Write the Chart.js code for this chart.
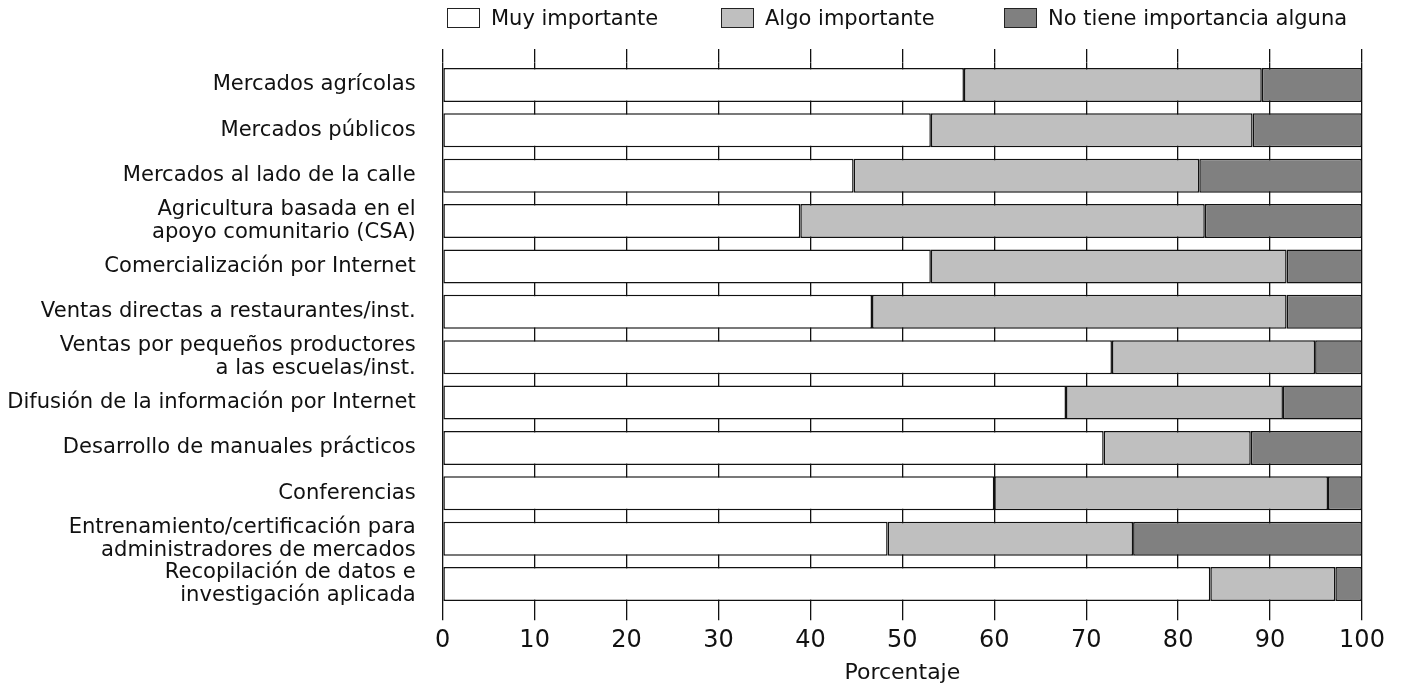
<!DOCTYPE html>
<html>
<head>
<meta charset="utf-8">
<script src="https://cdn.jsdelivr.net/npm/chart.js@4.4.1/dist/chart.umd.min.js"></script>
<style>
  html, body { margin: 0; padding: 0; background: #fff; }
  #wrap { position: relative; width: 1402px; height: 689px; overflow: hidden; }
  #chart { position: absolute; left: 0; top: 0; }
  #legend { position: absolute; left: 0; top: 0; width: 1402px; height: 40px;
            font-family: "DejaVu Sans", sans-serif; font-size: 21px; color: #111; }
  .item { position: absolute; top: 7px; height: 21px; display: flex; align-items: center; white-space: nowrap; }
  .box { width: 31px; height: 18px; border: 1.5px solid #222; margin-right: 11px; flex: none; }
</style>
</head>
<body>
<div id="wrap">
  <canvas id="chart" width="1402" height="689"></canvas>
  <div id="legend"></div>
</div>
<script>
// ---- data ----
const categories = [
  "Mercados agrícolas",
  "Mercados públicos",
  "Mercados al lado de la calle",
  ["Agricultura basada en el", "apoyo comunitario (CSA)"],
  "Comercialización por Internet",
  "Ventas directas a restaurantes/inst.",
  ["Ventas por pequeños productores", "a las escuelas/inst."],
  "Difusión de la información por Internet",
  "Desarrollo de manuales prácticos",
  "Conferencias",
  ["Entrenamiento/certificación para", "administradores de mercados"],
  ["Recopilación de datos e", "investigación aplicada"]
];
const muyImportante      = [56.7, 53.1, 44.7, 38.9, 53.1, 46.7, 72.8, 67.8, 71.9, 60.0, 48.4, 83.5];
const algoImportante     = [32.4, 35.0, 37.6, 44.0, 38.7, 45.1, 22.1, 23.6, 16.0, 36.3, 26.7, 13.6];
const noTieneImportancia = [10.9, 11.9, 17.7, 17.1,  8.2,  8.2,  5.1,  8.6, 12.1,  3.7, 24.9,  2.9];
const seriesNames  = ["Muy importante", "Algo importante", "No tiene importancia alguna"];
const seriesColors = ["#ffffff", "#bfbfbf", "#808080"];
const xTicks = [0, 10, 20, 30, 40, 50, 60, 70, 80, 90, 100];
const xTitle = "Porcentaje";

// ---- legend (HTML, real text) ----
const legendLefts = [447, 721, 1004];
const legendEl = document.getElementById("legend");
seriesNames.forEach((name, i) => {
  const item = document.createElement("div");
  item.className = "item";
  item.style.left = legendLefts[i] + "px";
  const box = document.createElement("span");
  box.className = "box";
  box.style.background = seriesColors[i];
  const txt = document.createElement("span");
  txt.textContent = name;
  item.appendChild(box);
  item.appendChild(txt);
  legendEl.appendChild(item);
});

// ---- chart ----
const FONT = "DejaVu Sans";
const INK = "#111";
const seriesValues = [muyImportante, algoImportante, noTieneImportancia];

new Chart(document.getElementById("chart"), {
  type: "bar",
  data: {
    labels: categories,
    datasets: seriesNames.map((name, i) => ({
      label: name,
      data: seriesValues[i],
      backgroundColor: seriesColors[i],
      borderColor: INK,
      borderWidth: 1.5,
      borderSkipped: false,
      categoryPercentage: 1,
      barPercentage: 0.75
    }))
  },
  options: {
    indexAxis: "y",
    responsive: false,
    animation: false,
    layout: { padding: { top: 49, left: 0, right: 40, bottom: 3 } },
    plugins: { legend: { display: false }, tooltip: { enabled: false } },
    scales: {
      x: {
        type: "linear", position: "bottom", stacked: true,
        min: xTicks[0], max: xTicks[xTicks.length - 1],
        afterBuildTicks: s => { s.ticks = xTicks.map(v => ({ value: v })); },
        ticks: { padding: 6, font: { family: FONT, size: 24 }, color: INK },
        grid: { color: INK, lineWidth: 1.3, drawTicks: true, tickLength: 13.5, tickColor: INK },
        border: { display: false },
        title: { display: true, text: xTitle, color: INK,
                 font: { family: FONT, size: 22 }, padding: { top: 7, bottom: 0 } },
        afterFit: s => { s.height = 79.3; }
      },
      x2: {
        type: "linear", position: "top",
        min: xTicks[0], max: xTicks[xTicks.length - 1],
        afterBuildTicks: s => { s.ticks = xTicks.map(v => ({ value: v })); },
        ticks: { display: false },
        grid: { drawOnChartArea: false, drawTicks: true, tickLength: 13.3, color: INK, lineWidth: 1.3 },
        border: { display: false },
        afterFit: s => { s.height = 13.3; }
      },
      y: {
        stacked: true,
        grid: { display: false, drawTicks: false },
        border: { display: false },
        ticks: { padding: 27, autoSkip: false, color: INK,
                 font: { family: FONT, size: 21.1, lineHeight: 1.08 } },
        afterFit: s => { s.width = 442.7; }
      }
    }
  }
});
</script>
</body>
</html>
